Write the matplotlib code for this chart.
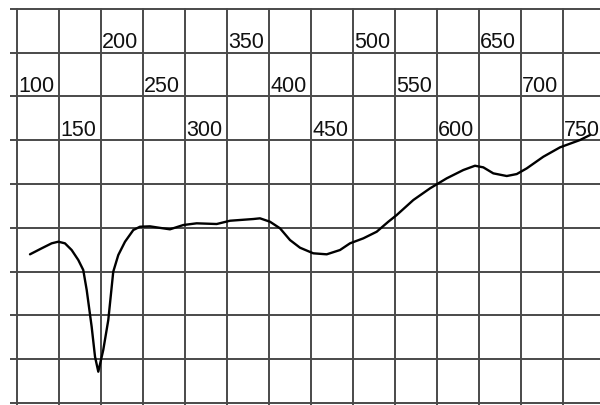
import matplotlib
matplotlib.use("Agg")
import matplotlib.pyplot as plt

# curve (x on the labelled scale, y in grid units)
wave = [115.5, 129.4, 141.3, 149.2, 157.1, 165.1, 173.0, 178.9, 183.0, 188.9,
        192.9, 196.8, 202.7, 208.7, 214.6, 220.6, 228.6, 238.5, 246.4, 258.3,
        270.2, 282.1, 298.0, 313.9, 337.7, 353.6, 381.3, 389.3, 401.2, 413.1,
        425.0, 436.9, 452.7, 468.7, 484.5, 496.4, 512.3, 528.2, 542.0, 552.0,
        571.8, 591.7, 611.5, 631.3, 645.2, 655.1, 667.0, 683.0, 694.9, 706.8,
        726.5, 746.4, 770.2, 782.1]
level = [3.395, 3.532, 3.646, 3.683, 3.646, 3.493, 3.265, 3.037, 2.580, 1.742,
         1.057, 0.715, 1.210, 1.895, 2.998, 3.379, 3.683, 3.950, 4.025, 4.034,
         3.999, 3.966, 4.064, 4.103, 4.087, 4.162, 4.201, 4.217, 4.139, 3.989,
         3.721, 3.546, 3.418, 3.395, 3.493, 3.646, 3.760, 3.911, 4.139, 4.292,
         4.635, 4.902, 5.130, 5.320, 5.418, 5.381, 5.244, 5.183, 5.228, 5.358,
         5.623, 5.838, 6.005, 6.119]

ticks = [100, 150, 200, 250, 300, 350, 400, 450, 500, 550, 600, 650, 700, 750]
# which of the three label rows each tick label sits in (0 = top row)
label_row = [1, 2, 0, 1, 2, 0, 1, 2, 0, 1, 2, 0, 1, 2]
hlines = [0, 1, 2, 3, 4, 5, 6, 7, 8, 9]

plt.rcParams["font.family"] = ["Liberation Sans", "DejaVu Sans"]

fig = plt.figure(figsize=(6, 4.05), dpi=100)
ax = fig.add_axes([10 / 600, 0, 590 / 600, 397 / 405])
ax.set_xlim(91.7, 794)
ax.set_ylim(-0.046, 9.02)

grid_kw = dict(color="#4a4a4a", linewidth=1.4, zorder=1)
for x in ticks:
    ax.axvline(x, **grid_kw)
for y in hlines:
    ax.axhline(y, **grid_kw)

for x, r in zip(ticks, label_row):
    ax.text(x + 1.5, 8 - r + 0.1, str(x), fontsize=15.5, color="#111111",
            ha="left", va="baseline", zorder=3)

ax.plot(wave, level, color="black", linewidth=1.7, zorder=2,
        solid_joinstyle="round", solid_capstyle="round")

ax.set_axis_off()
fig.savefig("out.png", dpi=100)
